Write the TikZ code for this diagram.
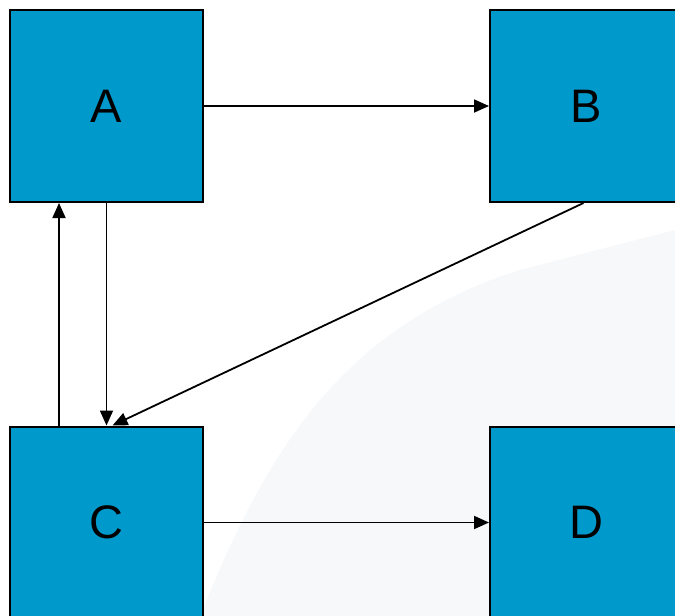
\documentclass[tikz,border=0pt]{standalone}
\usepackage{fontspec}
\setmainfont{Liberation Sans}
\usetikzlibrary{arrows.meta}
\definecolor{boxblue}{HTML}{0099CC}
\definecolor{wmark}{HTML}{F6F8FA}
\tikzset{
  box/.style={draw=black, line width=2pt, fill=boxblue, minimum width=193pt, minimum height=192pt, inner sep=0pt, font=\fontsize{47}{47}\selectfont},
  arr/.style={line width=1.8pt, -{Triangle[length=15pt,width=13pt]}}
}
\begin{document}
\begin{tikzpicture}[x=1pt,y=-1pt]
\useasboundingbox (0,0) rectangle (675,616);
\clip (0,0) rectangle (675,616);
\fill[white] (0,0) rectangle (675,616);
\fill[wmark] (200,616) .. controls (260,470) and (330,330) .. (520,270) -- (675,230) -- (675,616) -- cycle;
\node[box] (A) at (106.5,106) {A};
\node[box] (B) at (586.5,106) {B};
\node[box] (C) at (106.5,522.5) {C};
\node[box] (D) at (586.5,522.5) {D};
\draw[arr] (A.east) -- (B.west);
\draw[arr] (A.south) -- (C.north);
\draw[arr] ([xshift=-47.5pt]C.north) -- ([xshift=-47.5pt]A.south);
\draw[arr] ([xshift=-3pt]B.south) -- ([xshift=6pt]C.north);
\draw[arr] (C.east) -- (D.west);
\end{tikzpicture}
\end{document}
